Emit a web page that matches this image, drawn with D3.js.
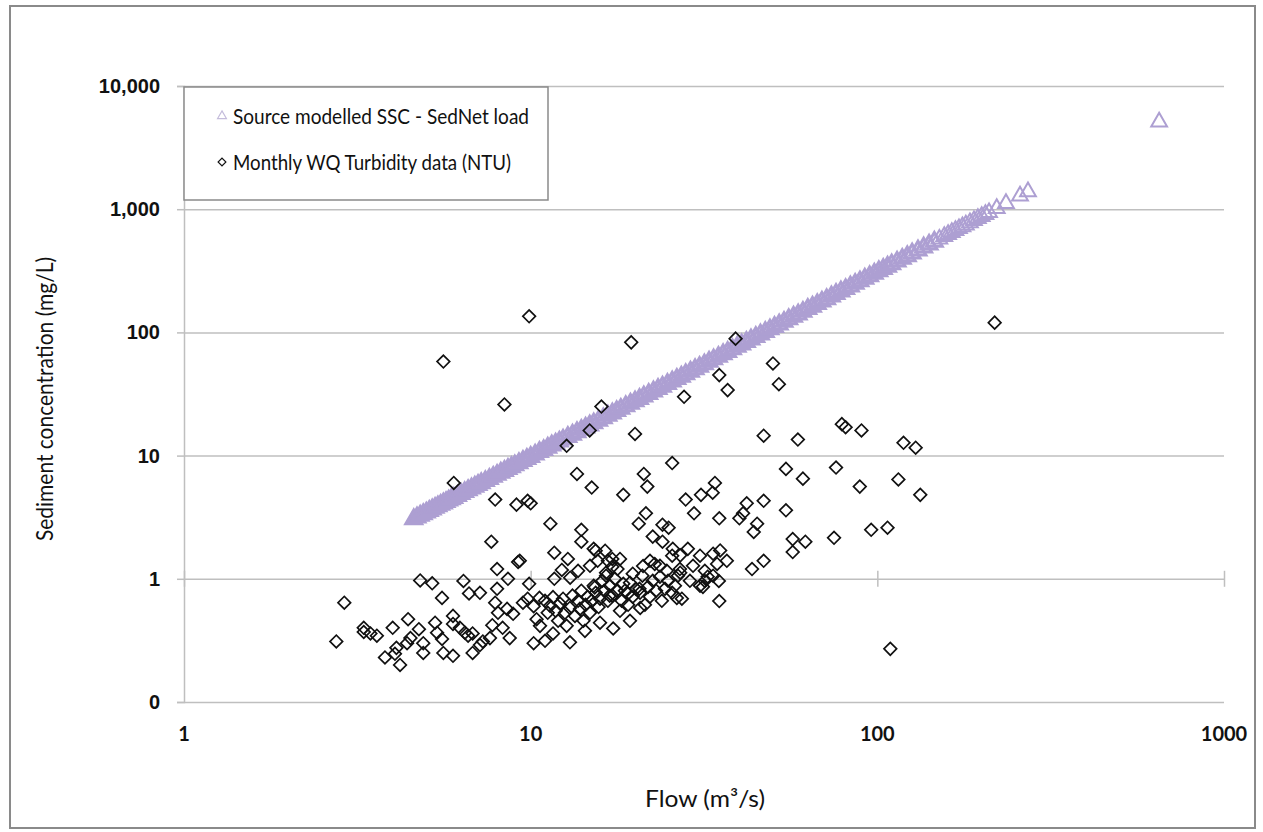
<!DOCTYPE html>
<html>
<head>
<meta charset="utf-8">
<script src="https://cdn.jsdelivr.net/npm/d3@7/dist/d3.min.js"></script>
<style>
  body { margin: 0; background: #fff; }
  svg { display: block; font-family: Lato, "Open Sans", sans-serif; }
</style>
</head>
<body>
<svg width="1263" height="832"></svg>
<script>
// modelled SSC from Source / SedNet (flow m3/s, SSC mg/L)
var modelFlow = [4.6,4.7,4.8,4.9,5.0,5.1,5.2,5.3,5.4,5.5,5.6,5.7,5.8,5.9,6.0,6.15,6.3,6.45,6.6,6.75,6.9,7.05,7.2,7.4,7.6,7.8,8.0,8.2,8.4,8.6,8.8,9.0,9.25,9.5,9.75,10.0,10.3,10.6,10.9,11.2,11.5,11.8,12.1,12.4,12.8,13.2,13.6,14.0,14.4,14.8,15.2,15.7,16.2,16.7,17.2,17.7,18.2,18.8,19.4,20.0,20.6,21.2,21.9,22.6,23.3,24.0,24.8,25.6,26.4,27.2,28.0,28.9,29.8,30.7,31.7,32.7,33.7,34.8,35.9,37.0,38.2,39.4,40.6,41.9,43.2,44.6,46.0,47.5,49.0,50.5,52.1,53.8,55.5,57.3,59.1,61.0,63.0,65.0,67.1,69.2,71.4,73.7,76.0,78.5,81.0,83.6,86.3,89.1,92.0,95.0,98.0,101,104,107,110,114,118,122,126,131,136,141,146,151,156,160,164,168,172,176,180,185,190,195,200,205,210,221,235,258,272,650];
var modelSSC = [3.05,3.15,3.25,3.35,3.45,3.56,3.66,3.77,3.88,3.99,4.09,4.20,4.32,4.43,4.54,4.71,4.89,5.06,5.24,5.42,5.60,5.78,5.97,6.22,6.47,6.73,6.99,7.26,7.52,7.79,8.07,8.34,8.69,9.05,9.41,9.77,10.2,10.7,11.1,11.6,12.1,12.5,13.0,13.5,14.2,14.8,15.5,16.2,16.9,17.6,18.3,19.2,20.1,21.1,22.0,23.0,24.0,25.2,26.4,27.6,28.9,30.2,31.7,33.2,34.8,36.3,38.2,40.0,41.9,43.8,45.8,48.0,50.3,52.6,55.1,57.8,60.5,63.4,66.5,69.5,73.0,76.4,79.9,83.8,87.7,92.0,96.4,101,106,111,116,122,128,134,140,147,155,162,170,178,186,196,205,215,225,236,248,260,273,286,300,314,328,342,357,376,396,416,437,463,490,517,545,573,602,625,649,673,697,721,746,778,809,841,874,907,940,1015,1113,1281,1386,5120];

// monthly WQ turbidity samples (flow m3/s, NTU)
var wqFlow = [9.9,5.6,19.5,8.4,16,39,218,109,50,52,35,37,27.7,14.8,12.7,20,47,59,79,81,90,119,129,25.6,13.6,15,21.2,21.7,18.5,34,33.5,28,31,29.6,35,42,41,40,47,45,44,54.5,61,76,89,115,133,54.5,96,107,75,57,62,57,47,43.5,35.2,33.6,36.8,34.5,33.6,31.8,34.9,11.4,14,14,21.5,20.5,24,25,22.5,24,25.7,27,11.7,12.8,12.3,15.4,16.7,17.8,21.1,22.8,24.7,27,19.7,18.5,26.4,15.3,16.9,19.1,9.3,9.9,11.7,13,20.6,6.0,7.9,9.1,9.8,10,7.7,8.0,9.2,8.6,4.8,5.2,2.9,2.75,3.3,3.3,3.45,3.6,3.8,4.2,4.06,4.1,4.4,4.43,4.5,4.0,4.76,4.9,4.9,5.3,5.37,5.55,5.6,5.97,5.55,5.97,5.97,6.25,6.46,6.6,6.8,6.4,6.64,6.8,7.14,7.28,7.63,7.14,8.0,7.9,7.75,8.3,8.7,8.05,8.55,8.9,9.5,9.8,10.2,10.2,10.4,10.6,
  11.0,11.2,11.37,11.6,11.8,12.0,12.15,12.4,12.56,12.7,12.98,13.2,13.42,13.7,13.87,14.0,14.2,14.4,14.6,14.83,15.0,15.2,15.4,15.7,15.85,16.1,16.3,16.5,16.7,16.93,17.2,17.5,17.7,18.1,18.3,18.7,19.1,19.34,19.7,20.1,20.67,21.0,21.36,21.8,22.09,22.5,23.0,23.6,23.9,24.4,24.9,25.6,26.07,26.6,27.3,28.8,30.8,32.4,
  10.64,11.0,11.6,12.98,14.34,15.85,17.3,19.34,13.7,14.83,15.6,16.5,17.2,18.1,22.09,23.6,25.6,26.95,28.4,29.4,30.8,31.8,15.2,16.4,17.2,31.4,35,20.7];
var wqNTU = [135,58,83,26,25,89,120,0.27,56,38,45,34,30,16,12,15,14.5,13.5,18,17,16,12.7,11.6,8.7,7.1,5.5,7.1,5.6,4.8,6.0,5.0,4.4,4.8,3.4,3.1,4.1,3.4,3.1,4.3,2.8,2.4,7.8,6.5,8,5.6,6.4,4.8,3.6,2.5,2.6,2.15,2.1,2.0,1.65,1.4,1.2,1.7,1.6,1.4,1.32,1.06,0.96,0.96,2.8,2.5,2.0,3.4,2.8,2.75,2.6,2.2,2.0,1.75,1.55,1.63,1.45,1.18,1.69,1.4,1.2,1.27,1.32,1.16,1.12,1.1,0.91,0.7,0.85,0.73,0.76,1.4,0.91,1.0,1.02,0.83,6.0,4.4,4.0,4.3,4.1,2.0,1.2,1.37,1.0,0.97,0.92,0.64,0.31,0.40,0.37,0.36,0.345,0.23,0.20,0.246,0.275,0.30,0.47,0.33,0.40,0.39,0.30,0.25,0.44,0.365,0.325,0.25,0.237,0.70,0.5,0.43,0.40,0.365,0.345,0.36,0.96,0.76,0.25,0.29,0.31,0.33,0.77,0.83,0.64,0.42,0.40,0.33,0.53,0.57,0.52,0.64,0.69,0.60,0.30,0.47,0.70,
  0.663,0.53,0.604,0.71,0.55,0.456,0.63,0.69,0.53,0.415,0.58,0.73,0.50,0.663,0.57,0.80,0.456,0.615,0.715,0.53,0.663,0.877,0.77,0.59,0.69,0.963,0.80,1.06,0.663,0.877,0.73,1.0,0.80,0.55,0.663,0.80,0.615,0.93,0.715,0.83,0.77,1.06,0.615,0.86,0.715,0.963,0.80,1.04,0.663,0.83,0.963,0.77,0.877,1.06,0.69,0.963,0.877,1.04,
  0.415,0.314,0.36,0.305,0.378,0.44,0.395,0.456,1.16,1.275,1.40,1.12,1.25,1.45,1.40,1.275,1.54,1.2,1.75,1.275,1.54,1.16,1.75,1.69,1.45,0.86,0.66,0.58];

var xTicks = [1,10,100,1000];
var xTickLabels = ["1","10","100","1000"];
var yTicks = [0.1,1,10,100,1000,10000];
var yTickLabels = ["0","1","10","100","1,000","10,000"];

var modelData = modelFlow.map(function(f,i){ return {flow:f, val:modelSSC[i]}; });
var wqData = wqFlow.map(function(f,i){ return {flow:f, val:wqNTU[i]}; });

var svg = d3.select("svg");
var plotLeft = 184, plotRight = 1224, plotTop = 86, plotBottom = 702;

var xScale = d3.scaleLog().domain([1,1000]).range([plotLeft,plotRight]);
var yScale = d3.scaleLog().domain([0.1,10000]).range([plotBottom,plotTop]);

// chart border
svg.append("rect")
   .attr("x",10).attr("y",6)
   .attr("width",1245).attr("height",822)
   .attr("fill","none")
   .attr("stroke","#8a8a8a")
   .attr("stroke-width",2);

// horizontal gridlines + y axis
var yAxis = d3.axisLeft(yScale)
              .tickValues(yTicks)
              .tickFormat(function(d,i){ return yTickLabels[i]; })
              .tickSize(7)
              .tickPadding(17);
var gy = svg.append("g")
            .attr("transform","translate("+plotLeft+",0)")
            .call(yAxis);
gy.select(".domain").attr("stroke","#bfbfbf").attr("stroke-width",1.5);
gy.selectAll(".tick line").attr("stroke","#bfbfbf").attr("stroke-width",1.5);
gy.selectAll(".tick text")
  .attr("font-size",20).attr("font-weight","bold").attr("fill","#111");
gy.selectAll(".tick").append("line")
  .attr("x1",0).attr("x2",plotRight-plotLeft)
  .attr("stroke","#bfbfbf").attr("stroke-width",1.5);

// x axis crosses at 1, labels low
var xAxis = d3.axisBottom(xScale)
              .tickValues(xTicks)
              .tickFormat("")
              .tickSize(8);
var gx = svg.append("g")
            .attr("transform","translate(0,"+yScale(1)+")")
            .call(xAxis);
gx.select(".domain").remove();
gx.selectAll(".tick line").attr("y1",-8).attr("stroke","#bfbfbf").attr("stroke-width",1.5);

svg.append("g").selectAll("text")
   .data(xTicks)
   .enter()
   .append("text")
   .attr("x",function(d){ return xScale(d); })
   .attr("y",plotBottom+39)
   .attr("text-anchor","middle")
   .attr("font-size",20).attr("font-weight","bold").attr("fill","#111")
   .text(function(d,i){ return xTickLabels[i]; });

// series
var tri = d3.symbol().type(d3.symbolTriangle).size(108);
var dia = d3.symbol().type(d3.symbolSquare).size(80);

svg.append("g").selectAll("path")
   .data(modelData)
   .enter()
   .append("path")
   .attr("d",tri)
   .attr("transform",function(d){ return "translate("+xScale(d.flow)+","+yScale(d.val)+")"; })
   .attr("fill","none")
   .attr("stroke","#ad9fd2")
   .attr("stroke-width",function(d){ return d.flow < 150 ? 3 : 2; });

svg.append("g").selectAll("path")
   .data(wqData)
   .enter()
   .append("path")
   .attr("d",dia)
   .attr("transform",function(d){ return "translate("+xScale(d.flow)+","+yScale(d.val)+") rotate(45)"; })
   .attr("fill","none")
   .attr("stroke","#111")
   .attr("stroke-width",1.7);

// legend
var lg = svg.append("g");
lg.append("rect")
  .attr("x",plotLeft).attr("y",plotTop+1)
  .attr("width",364).attr("height",113)
  .attr("fill","#fff").attr("stroke","#8a8a8a").attr("stroke-width",1.5);
lg.append("path")
  .attr("d",d3.symbol().type(d3.symbolTriangle).size(34))
  .attr("transform","translate(222,116)")
  .attr("fill","none").attr("stroke","#c4bcdb").attr("stroke-width",1.2);
lg.append("text")
  .attr("x",233).attr("y",124)
  .attr("font-size",22).attr("fill","#111")
  .attr("textLength",296).attr("lengthAdjust","spacingAndGlyphs")
  .text("Source modelled SSC - SedNet load");
lg.append("path")
  .attr("d",d3.symbol().type(d3.symbolSquare).size(30))
  .attr("transform","translate(222,162) rotate(45)")
  .attr("fill","none").attr("stroke","#111").attr("stroke-width",1.2);
lg.append("text")
  .attr("x",233).attr("y",170)
  .attr("font-size",22).attr("fill","#111")
  .attr("textLength",278).attr("lengthAdjust","spacingAndGlyphs")
  .text("Monthly WQ Turbidity data (NTU)");

// axis titles
svg.append("text")
   .attr("transform","translate(53,399) rotate(-90)")
   .attr("text-anchor","middle")
   .attr("font-size",24).attr("fill","#111")
   .attr("textLength",284).attr("lengthAdjust","spacingAndGlyphs")
   .text("Sediment concentration (mg/L)");
svg.append("text")
   .attr("x",705).attr("y",807)
   .attr("text-anchor","middle")
   .attr("font-size",24).attr("fill","#111")
   .attr("textLength",120).attr("lengthAdjust","spacingAndGlyphs")
   .text("Flow (m³/s)");
</script>
</body>
</html>
